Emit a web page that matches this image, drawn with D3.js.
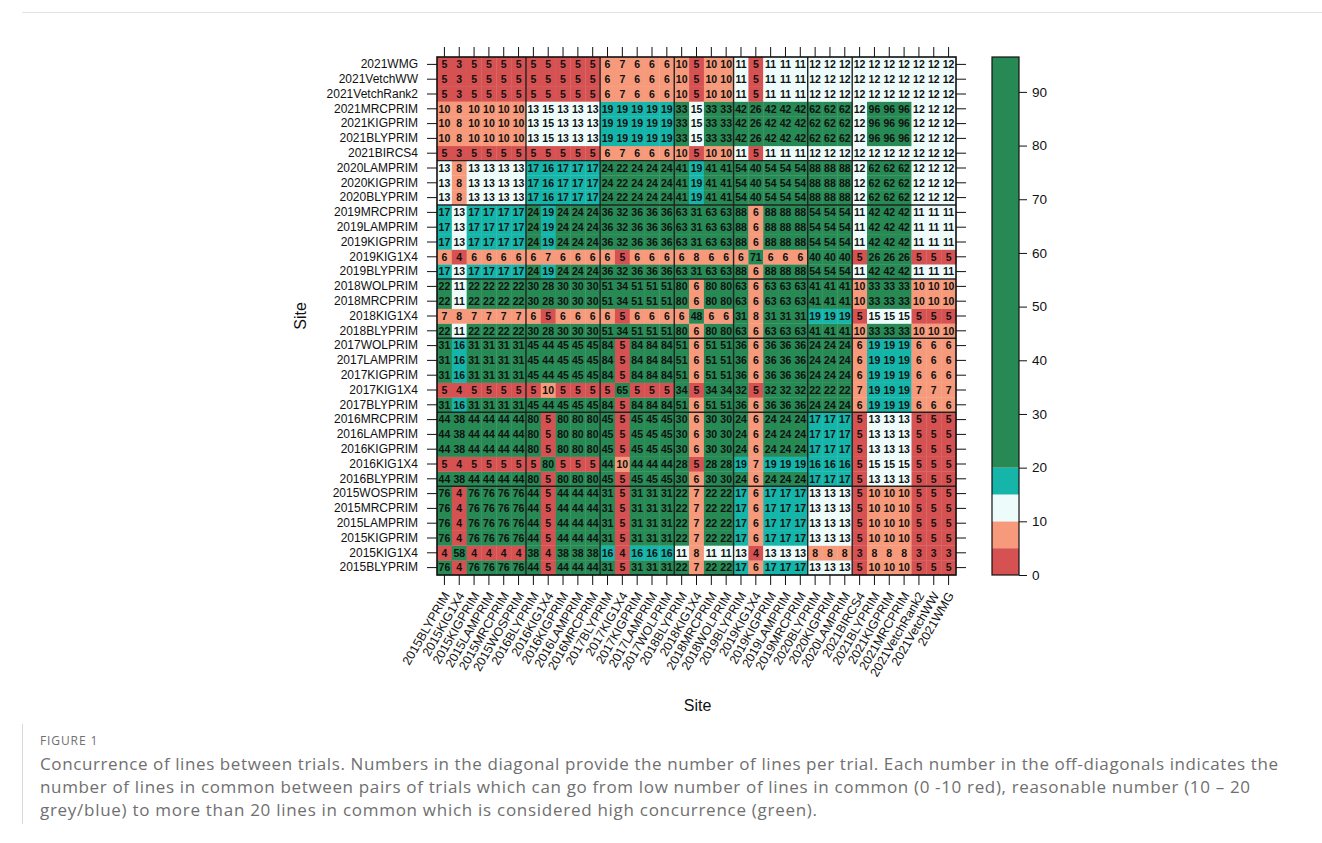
<!DOCTYPE html>
<html>
<head>
<meta charset="utf-8">
<script src="https://cdn.jsdelivr.net/npm/d3@7"></script>
<style>
  html, body { margin: 0; padding: 0; background: #fff; }
  svg { display: block; }
</style>
</head>
<body>
<svg id="chart" width="1322" height="843"></svg>
<script>
// ---------- DATA ----------
const sites = ["2015BLYPRIM","2015KIG1X4","2015KIGPRIM","2015LAMPRIM","2015MRCPRIM","2015WOSPRIM",
  "2016BLYPRIM","2016KIG1X4","2016KIGPRIM","2016LAMPRIM","2016MRCPRIM",
  "2017BLYPRIM","2017KIG1X4","2017KIGPRIM","2017LAMPRIM","2017WOLPRIM",
  "2018BLYPRIM","2018KIG1X4","2018MRCPRIM","2018WOLPRIM",
  "2019BLYPRIM","2019KIG1X4","2019KIGPRIM","2019LAMPRIM","2019MRCPRIM",
  "2020BLYPRIM","2020KIGPRIM","2020LAMPRIM",
  "2021BIRCS4","2021BLYPRIM","2021KIGPRIM","2021MRCPRIM","2021VetchRank2","2021VetchWW","2021WMG"];

// lines in common, one row per site (columns follow `sites`)
const row2015PRIM   = [76,4,76,76,76,76, 44,5,44,44,44, 31,5,31,31,31, 22,7,22,22, 17,6,17,17,17, 13,13,13, 5,10,10,10,5,5,5];
const row2015KIG1X4 = [4,58,4,4,4,4, 38,4,38,38,38, 16,4,16,16,16, 11,8,11,11, 13,4,13,13,13, 8,8,8, 3,8,8,8,3,3,3];
const row2016PRIM   = [44,38,44,44,44,44, 80,5,80,80,80, 45,5,45,45,45, 30,6,30,30, 24,6,24,24,24, 17,17,17, 5,13,13,13,5,5,5];
const row2016KIG1X4 = [5,4,5,5,5,5, 5,80,5,5,5, 44,10,44,44,44, 28,5,28,28, 19,7,19,19,19, 16,16,16, 5,15,15,15,5,5,5];
const row2017PRIM   = [31,16,31,31,31,31, 45,44,45,45,45, 84,5,84,84,84, 51,6,51,51, 36,6,36,36,36, 24,24,24, 6,19,19,19,6,6,6];
const row2017KIG1X4 = [5,4,5,5,5,5, 5,10,5,5,5, 5,65,5,5,5, 34,5,34,34, 32,5,32,32,32, 22,22,22, 7,19,19,19,7,7,7];
const row2018PRIM   = [22,11,22,22,22,22, 30,28,30,30,30, 51,34,51,51,51, 80,6,80,80, 63,6,63,63,63, 41,41,41, 10,33,33,33,10,10,10];
const row2018KIG1X4 = [7,8,7,7,7,7, 6,5,6,6,6, 6,5,6,6,6, 6,48,6,6, 31,8,31,31,31, 19,19,19, 5,15,15,15,5,5,5];
const row2019PRIM   = [17,13,17,17,17,17, 24,19,24,24,24, 36,32,36,36,36, 63,31,63,63, 88,6,88,88,88, 54,54,54, 11,42,42,42,11,11,11];
const row2019KIG1X4 = [6,4,6,6,6,6, 6,7,6,6,6, 6,5,6,6,6, 6,8,6,6, 6,71,6,6,6, 40,40,40, 5,26,26,26,5,5,5];
const row2020PRIM   = [13,8,13,13,13,13, 17,16,17,17,17, 24,22,24,24,24, 41,19,41,41, 54,40,54,54,54, 88,88,88, 12,62,62,62,12,12,12];
const row2021Other  = [5,3,5,5,5,5, 5,5,5,5,5, 6,7,6,6,6, 10,5,10,10, 11,5,11,11,11, 12,12,12, 12,12,12,12,12,12,12];
const row2021PRIM   = [10,8,10,10,10,10, 13,15,13,13,13, 19,19,19,19,19, 33,15,33,33, 42,26,42,42,42, 62,62,62, 12,96,96,96,12,12,12];

const matrix = [
  row2015PRIM, row2015KIG1X4, row2015PRIM, row2015PRIM, row2015PRIM, row2015PRIM,
  row2016PRIM, row2016KIG1X4, row2016PRIM, row2016PRIM, row2016PRIM,
  row2017PRIM, row2017KIG1X4, row2017PRIM, row2017PRIM, row2017PRIM,
  row2018PRIM, row2018KIG1X4, row2018PRIM, row2018PRIM,
  row2019PRIM, row2019KIG1X4, row2019PRIM, row2019PRIM, row2019PRIM,
  row2020PRIM, row2020PRIM, row2020PRIM,
  row2021Other, row2021PRIM, row2021PRIM, row2021PRIM, row2021Other, row2021Other, row2021Other
];

const colourBreaks = [0, 5, 10, 15, 20, 96.5];
const colourTicks = [0, 10, 20, 30, 40, 50, 60, 70, 80, 90];
const colours = ["#d65252", "#f69a7b", "#edfcfb", "#15b5aa", "#278a55"];

// ---------- LAYOUT ----------
const svg = d3.select("#chart");
const L = 437, R = 956, T = 57, B = 575;

const x = d3.scaleBand().domain(sites).range([L, R]).padding(0);
const y = d3.scaleBand().domain(sites.slice().reverse()).range([T, B]).padding(0);
const colour = d3.scaleThreshold().domain([5.5, 10.5, 15.5, 20.5]).range(colours);

const cells = [];
matrix.forEach((row, i) => row.forEach((v, j) => cells.push({ r: sites[i], c: sites[j], v })));

const g = svg.append("g");
g.selectAll("rect.cell").data(cells).join("rect")
  .attr("class", "cell")
  .attr("x", d => x(d.c)).attr("y", d => y(d.r))
  .attr("width", x.bandwidth() + 0.3).attr("height", y.bandwidth() + 0.3)
  .attr("fill", d => colour(d.v));

g.selectAll("text.val").data(cells).join("text")
  .attr("class", "val")
  .attr("x", d => x(d.c) + x.bandwidth() / 2)
  .attr("y", d => y(d.r) + y.bandwidth() / 2)
  .attr("dy", "0.36em")
  .attr("text-anchor", "middle")
  .attr("font-family", "Liberation Sans, Arial, sans-serif")
  .attr("font-weight", "bold")
  .attr("font-size", 10.5)
  .attr("fill", "#111")
  .text(d => d.v);

// year group separators
const year = s => s.slice(0, 4);
const boundaries = sites.filter((s, i) => i > 0 && year(s) !== year(sites[i - 1]));
g.selectAll("line.vsep").data(boundaries).join("line")
  .attr("x1", d => x(d)).attr("x2", d => x(d))
  .attr("y1", T).attr("y2", B)
  .attr("stroke", "#222").attr("stroke-width", 1.4);
g.selectAll("line.hsep").data(boundaries).join("line")
  .attr("y1", d => y(d) + y.bandwidth()).attr("y2", d => y(d) + y.bandwidth())
  .attr("x1", L).attr("x2", R)
  .attr("stroke", "#222").attr("stroke-width", 1.4);

// frame
g.append("rect").attr("x", L).attr("y", T).attr("width", R - L).attr("height", B - T)
  .attr("fill", "none").attr("stroke", "#111").attr("stroke-width", 1.6);

// axes
const font = "Liberation Sans, Arial, sans-serif";
const styleAxis = sel => {
  sel.select(".domain").remove();
  sel.selectAll(".tick line").attr("stroke", "#111").attr("stroke-width", 1);
  sel.selectAll("text").attr("font-family", font).attr("font-size", 12).attr("fill", "#111");
};

svg.append("g").attr("transform", `translate(${L},0)`)
  .call(d3.axisLeft(y).tickSize(10).tickPadding(9)).call(styleAxis);
svg.append("g").attr("transform", `translate(${R},0)`)
  .call(d3.axisRight(y).tickSize(10).tickFormat("")).call(styleAxis);
svg.append("g").attr("transform", `translate(0,${T})`)
  .call(d3.axisTop(x).tickSize(10).tickFormat("")).call(styleAxis);
const xb = svg.append("g").attr("transform", `translate(0,${B})`)
  .call(d3.axisBottom(x).tickSize(10).tickPadding(0)).call(styleAxis);
xb.selectAll(".tick text")
  .attr("text-anchor", "end")
  .attr("dy", "0.35em")
  .attr("font-size", 12.5)
  .attr("transform", "translate(2,18) rotate(-60)")
  .attr("y", 0).attr("x", 0);

// axis titles
svg.append("text").attr("x", (L + R) / 2 + 1).attr("y", 711)
  .attr("text-anchor", "middle").attr("font-family", font).attr("font-size", 16).attr("fill", "#111")
  .text("Site");
svg.append("text").attr("transform", `translate(306,${(T + B) / 2}) rotate(-90)`)
  .attr("text-anchor", "middle").attr("font-family", font).attr("font-size", 16).attr("fill", "#111")
  .text("Site");

// colour key
const kL = 992, kR = 1019;
const k = d3.scaleLinear().domain([0, colourBreaks[colourBreaks.length - 1]]).range([B, T]);
const segs = d3.pairs(colourBreaks).map((p, i) => ({ a: p[0], b: p[1], c: colours[i] }));
svg.append("g").selectAll("rect").data(segs).join("rect")
  .attr("x", kL).attr("width", kR - kL)
  .attr("y", d => k(d.b)).attr("height", d => k(d.a) - k(d.b))
  .attr("fill", d => d.c);
svg.append("rect").attr("x", kL).attr("y", T).attr("width", kR - kL).attr("height", B - T)
  .attr("fill", "none").attr("stroke", "#111").attr("stroke-width", 1.2);
const ka = svg.append("g").attr("transform", `translate(${kR},0)`)
  .call(d3.axisRight(k).tickValues(colourTicks).tickSize(8).tickPadding(5));
ka.select(".domain").remove();
ka.selectAll(".tick line").attr("stroke", "#111");
ka.selectAll("text").attr("font-family", font).attr("font-size", 13.5).attr("fill", "#111");

// page decoration and caption
svg.append("line").attr("x1", 22).attr("x2", 1322).attr("y1", 12.5).attr("y2", 12.5)
  .attr("stroke", "#e2e2e2").attr("stroke-width", 1);
svg.append("line").attr("x1", 22.5).attr("x2", 22.5).attr("y1", 724).attr("y2", 824)
  .attr("stroke", "#d8d8d8").attr("stroke-width", 1);

const capFont = "Open Sans, Noto Sans, sans-serif";
svg.append("text").attr("x", 40).attr("y", 745)
  .attr("font-family", capFont).attr("font-size", 12).attr("letter-spacing", 0.9)
  .attr("fill", "#707070").text("FIGURE 1");
const captionLines = [
  "Concurrence of lines between trials. Numbers in the diagonal provide the number of lines per trial. Each number in the off-diagonals indicates the",
  "number of lines in common between pairs of trials which can go from low number of lines in common (0 -10 red), reasonable number (10 \u2013 20",
  "grey/blue) to more than 20 lines in common which is considered high concurrence (green)."
];
const captionWidths = [1238, 1210, 777];
svg.append("g").selectAll("text").data(captionLines).join("text")
  .attr("x", 40).attr("y", (d, i) => 770 + i * 23)
  .attr("font-family", capFont).attr("font-size", 17).attr("fill", "#6f6f6f")
  .attr("textLength", (d, i) => captionWidths[i]).attr("lengthAdjust", "spacing")
  .text(d => d);
</script>
</body>
</html>
